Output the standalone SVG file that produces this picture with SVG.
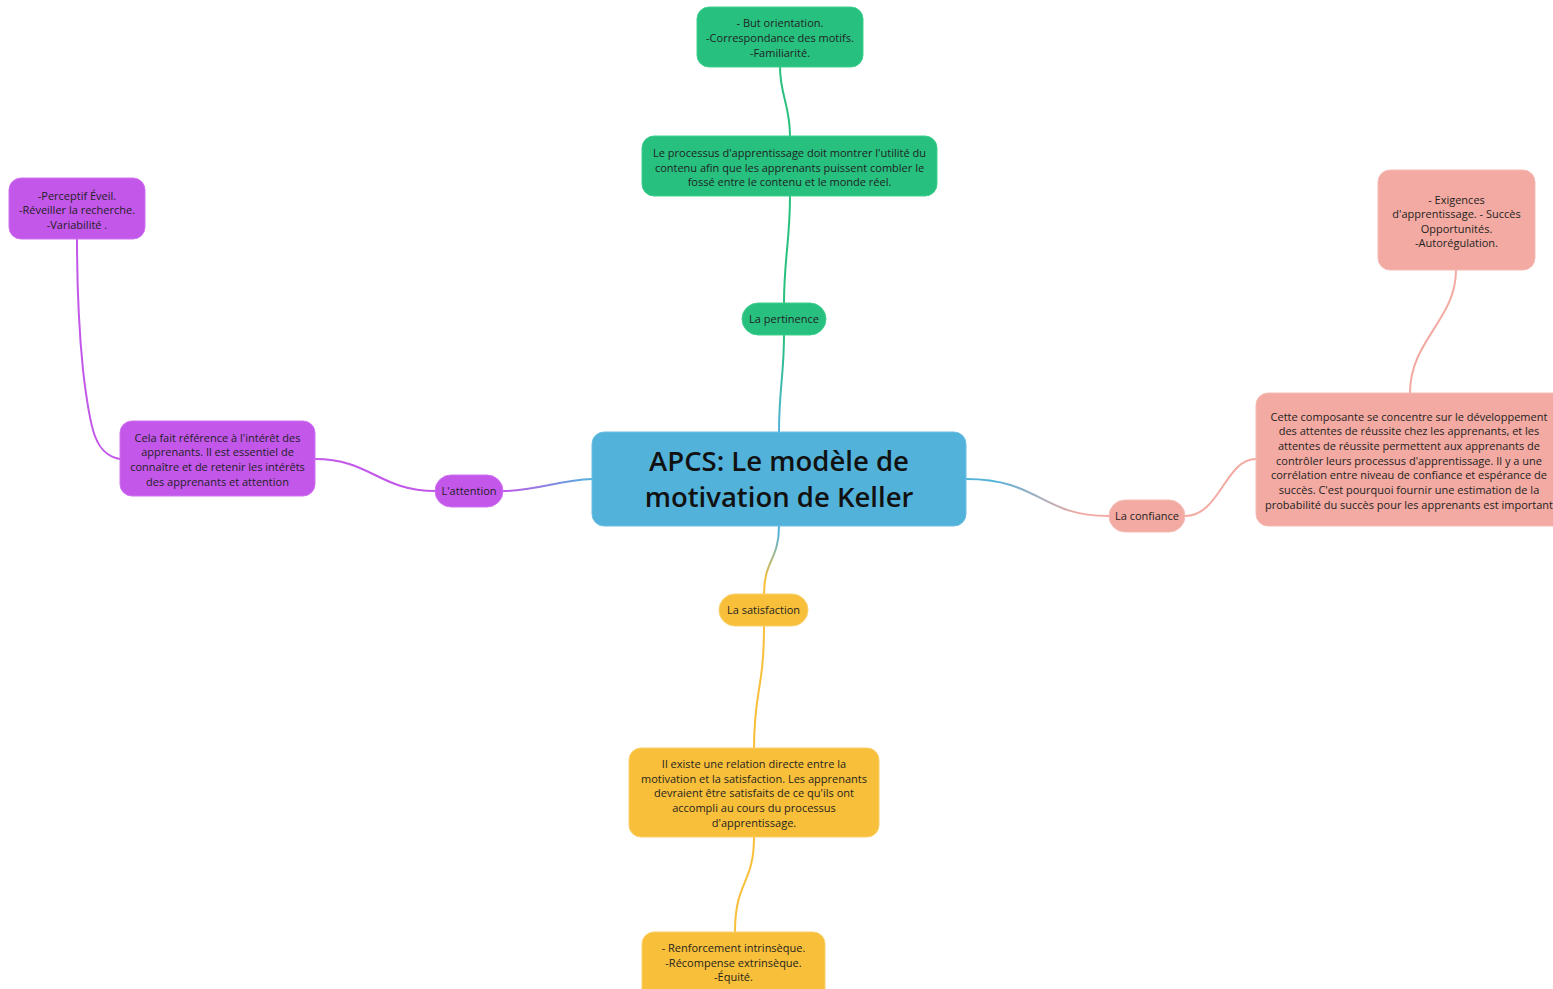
<svg xmlns="http://www.w3.org/2000/svg" width="1553" height="989" viewBox="0 0 1553 989">
<style>
text{font-family:"Open Sans","Noto Sans","Liberation Sans",sans-serif;font-size:11px;fill:#1f1f1f;text-anchor:middle}
.title{font-size:27.5px;font-weight:600;fill:#111}
.c{fill:none;stroke-width:2;stroke-linecap:round}
.g{fill:#27c07f;stroke:#3fd08f;stroke-width:1}
.p{fill:#c257ea;stroke:#cf72f0;stroke-width:1}
.s{fill:#f2aaa2;stroke:#f5bdb6;stroke-width:1}
.y{fill:#f8bf3a;stroke:#fad06a;stroke-width:1}
.b{fill:#52b2da;stroke:#6cc0e2;stroke-width:1}
</style>
<defs>
<linearGradient id="gT" gradientUnits="userSpaceOnUse" x1="0" y1="432" x2="0" y2="335"><stop offset="0" stop-color="#52b2da"/><stop offset="1" stop-color="#27c07f"/></linearGradient>
<linearGradient id="gL" gradientUnits="userSpaceOnUse" x1="592" y1="0" x2="503" y2="0"><stop offset="0" stop-color="#52b2da"/><stop offset="1" stop-color="#c257ea"/></linearGradient>
<linearGradient id="gR" gradientUnits="userSpaceOnUse" x1="966" y1="0" x2="1109" y2="0"><stop offset="0.2" stop-color="#52b2da"/><stop offset="0.8" stop-color="#f2aaa2"/></linearGradient>
<linearGradient id="gB" gradientUnits="userSpaceOnUse" x1="0" y1="526" x2="0" y2="594"><stop offset="0.1" stop-color="#52b2da"/><stop offset="0.8" stop-color="#f8bf3a"/></linearGradient>
</defs>
<g id="connectors">
<path class="c" stroke="url(#gT)" d="M779 432 C779 390 784 375 784 335"/>
<path class="c" stroke="#27c07f" d="M784 303 C784 260 790 240 790 196"/>
<path class="c" stroke="#27c07f" d="M790 136 C790 105 780 95 780 67"/>
<path class="c" stroke="url(#gL)" d="M592 479 C560 480 535 491 503 491"/>
<path class="c" stroke="#c257ea" d="M435 491 C380 491 370 459 315 459"/>
<path class="c" stroke="#c257ea" d="M120 459 C95 455 90 430 83 370 C78 320 77 280 77 239"/>
<path class="c" stroke="url(#gR)" d="M966 479 C1040 479 1040 516 1109 516"/>
<path class="c" stroke="#f2aaa2" d="M1185 516 C1220 516 1225 459 1256 459"/>
<path class="c" stroke="#f2aaa2" d="M1410 393 C1410 340 1456 320 1456 270"/>
<path class="c" stroke="url(#gB)" d="M779 526 C779 560 764 560 764 594"/>
<path class="c" stroke="#f8bf3a" d="M764 626 C764 690 754 690 754 748"/>
<path class="c" stroke="#f8bf3a" d="M754 837 C754 885 735 880 735 932"/>
</g>
<g id="central">
<rect class="b" x="592" y="432" width="374" height="94" rx="12"/>
<text class="title" x="779" y="471">APCS: Le modèle de</text>
<text class="title" x="779" y="507">motivation de Keller</text>
</g>
<g id="pertinence">
<rect class="g" x="742" y="303" width="84" height="32" rx="16"/>
<text x="784" y="323">La pertinence</text>
</g>
<g id="pertinence-detail">
<rect class="g" x="642" y="136" width="295" height="60" rx="12"/>
<text x="789.5" y="157">Le processus d'apprentissage doit montrer l'utilité du</text>
<text x="789.5" y="172">contenu afin que les apprenants puissent combler le</text>
<text x="789.5" y="186">fossé entre le contenu et le monde réel.</text>
</g>
<g id="pertinence-items">
<rect class="g" x="697" y="7" width="166" height="60" rx="12"/>
<text x="780" y="27">- But orientation.</text>
<text x="780" y="42">-Correspondance des motifs.</text>
<text x="780" y="57">-Familiarité.</text>
</g>
<g id="attention">
<rect class="p" x="435" y="475" width="68" height="32" rx="16"/>
<text x="469" y="495">L'attention</text>
</g>
<g id="attention-detail">
<rect class="p" x="120" y="421" width="195" height="75" rx="12"/>
<text x="217.5" y="442">Cela fait référence à l'intérêt des</text>
<text x="217.5" y="456">apprenants. Il est essentiel de</text>
<text x="217.5" y="471">connaître et de retenir les intérêts</text>
<text x="217.5" y="486">des apprenants et attention</text>
</g>
<g id="attention-items">
<rect class="p" x="9" y="178" width="136" height="61" rx="12"/>
<text x="77" y="200">-Perceptif Éveil.</text>
<text x="77" y="214">-Réveiller la recherche.</text>
<text x="77" y="229">-Variabilité .</text>
</g>
<g id="confiance">
<rect class="s" x="1109" y="500" width="76" height="32" rx="16"/>
<text x="1147" y="520">La confiance</text>
</g>
<g id="confiance-detail">
<rect class="s" x="1256" y="393" width="310" height="133" rx="12"/>
<text x="1409" y="421">Cette composante se concentre sur le développement</text>
<text x="1409" y="435">des attentes de réussite chez les apprenants, et les</text>
<text x="1409" y="450">attentes de réussite permettent aux apprenants de</text>
<text x="1409" y="465">contrôler leurs processus d'apprentissage. Il y a une</text>
<text x="1409" y="479">corrélation entre niveau de confiance et espérance de</text>
<text x="1409" y="494">succès. C'est pourquoi fournir une estimation de la</text>
<text x="1409" y="509">probabilité du succès pour les apprenants est important</text>
</g>
<g id="confiance-items">
<rect class="s" x="1378" y="170" width="157" height="100" rx="12"/>
<text x="1456.5" y="204">- Exigences</text>
<text x="1456.5" y="218">d'apprentissage. - Succès</text>
<text x="1456.5" y="233">Opportunités.</text>
<text x="1456.5" y="247">-Autorégulation.</text>
</g>
<g id="satisfaction">
<rect class="y" x="719" y="594" width="89" height="32" rx="16"/>
<text x="763.5" y="614">La satisfaction</text>
</g>
<g id="satisfaction-detail">
<rect class="y" x="629" y="748" width="250" height="89" rx="12"/>
<text x="754" y="768">Il existe une relation directe entre la</text>
<text x="754" y="783">motivation et la satisfaction. Les apprenants</text>
<text x="754" y="797">devraient être satisfaits de ce qu'ils ont</text>
<text x="754" y="812">accompli au cours du processus</text>
<text x="754" y="827">d'apprentissage.</text>
</g>
<g id="satisfaction-items">
<rect class="y" x="642" y="932" width="183" height="70" rx="12"/>
<text x="733.5" y="952">- Renforcement intrinsèque.</text>
<text x="733.5" y="967">-Récompense extrinsèque.</text>
<text x="733.5" y="981">-Équité.</text>
</g>
</svg>
